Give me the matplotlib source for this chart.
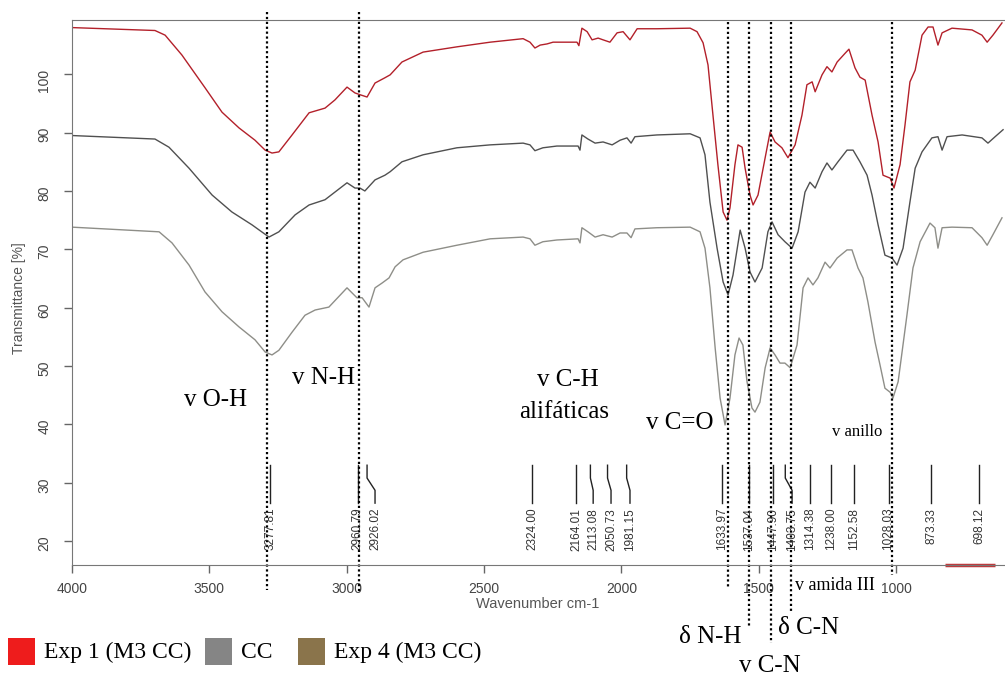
import matplotlib.pyplot as plt
import matplotlib.transforms as mtransforms
from matplotlib.patches import Rectangle

# FTIR spectra (wavenumber cm-1, transmittance %)
wn_exp1 = [4000, 3698, 3661, 3600, 3516, 3454, 3392, 3334, 3297, 3272, 3247, 3199, 3137, 3079,
           3043, 2999, 2970, 2952, 2926, 2897, 2861, 2842, 2799, 2722, 2599, 2478, 2358, 2333,
           2315, 2296, 2271, 2249, 2162, 2155, 2144, 2125, 2107, 2085, 2067, 2042, 2016, 1994,
           1969, 1943, 1871, 1750, 1725, 1703, 1685, 1667, 1649, 1630, 1616, 1605, 1587, 1576,
           1561, 1550, 1532, 1521, 1503, 1477, 1459, 1441, 1416, 1394, 1368, 1343, 1325, 1306,
           1295, 1270, 1252, 1234, 1215, 1186, 1172, 1150, 1132, 1113, 1088, 1066, 1048, 1022,
           1008, 986, 968, 950, 931, 906, 884, 866, 848, 833, 797, 724, 688, 669, 648, 615]
t_exp1 = [108.0, 107.5, 106.7, 103.3, 97.7, 93.5, 90.8, 88.7, 87.0, 86.5, 86.7, 89.6, 93.4, 94.2,
          95.6, 97.8, 96.8, 96.5, 96.1, 98.5, 99.4, 99.9, 102.1, 103.8, 104.7, 105.5, 106.1, 105.5,
          104.5, 105.0, 105.2, 105.5, 105.5, 104.9, 107.9, 107.3, 105.9, 106.2, 105.9, 105.5, 107.1, 107.3,
          105.9, 107.8, 107.8, 107.9, 107.3, 105.4, 101.6, 93.0, 84.5, 76.4, 75.0, 77.1, 84.5, 87.9,
          87.5, 83.9, 79.3, 77.6, 79.3, 85.7, 90.1, 88.4, 87.4, 85.7, 87.9, 93.0, 98.2, 98.7,
          97.0, 99.9, 101.3, 100.4, 102.1, 103.6, 104.3, 101.1, 99.5, 99.0, 93.0, 88.4, 82.7, 82.2,
          80.5, 84.5, 91.3, 98.7, 100.7, 106.7, 108.1, 108.1, 105.0, 107.1, 107.9, 107.6, 106.7, 105.5, 106.7, 108.8]

wn_cc = [4000, 3698, 3647, 3574, 3490, 3418, 3345, 3283, 3247, 3188, 3137, 3079, 2999, 2970,
         2952, 2934, 2897, 2861, 2842, 2799, 2722, 2599, 2478, 2358, 2333, 2315, 2286, 2235,
         2158, 2151, 2144, 2122, 2096, 2067, 2034, 2005, 1980, 1965, 1951, 1871, 1750, 1714,
         1696, 1678, 1652, 1630, 1612, 1594, 1568, 1550, 1532, 1514, 1488, 1467, 1452, 1430,
         1405, 1379, 1357, 1332, 1314, 1295, 1270, 1252, 1234, 1212, 1179, 1157, 1132, 1106,
         1088, 1066, 1041, 1015, 997, 975, 950, 931, 906, 870, 848, 833, 815, 760, 688, 666, 640, 611]
t_cc = [89.5, 88.9, 87.5, 83.9, 79.3, 76.4, 74.2, 72.1, 73.0, 75.9, 77.6, 78.5, 81.4, 80.5,
        80.5, 80.0, 81.9, 82.7, 83.3, 85.0, 86.2, 87.4, 87.9, 88.2, 87.9, 86.9, 87.4, 87.7,
        87.7, 87.0, 89.6, 88.9, 88.2, 88.4, 87.9, 88.7, 89.1, 88.2, 89.3, 89.6, 89.8, 89.1,
        86.2, 78.1, 70.2, 64.4, 62.2, 65.6, 73.3, 70.2, 66.1, 64.4, 66.8, 73.0, 74.7, 72.5,
        71.3, 70.2, 73.0, 79.8, 81.5, 80.5, 83.3, 84.8, 83.6, 85.0, 87.0, 87.0, 85.0, 82.7,
        79.3, 74.2, 69.0, 68.5, 67.3, 70.2, 78.1, 83.9, 86.7, 89.1, 89.3, 87.0, 89.3, 89.6, 89.1, 88.2, 89.3, 90.5]

wn_exp4 = [4000, 3683, 3636, 3574, 3516, 3454, 3392, 3334, 3297, 3272, 3247, 3199, 3152, 3115,
           3065, 2999, 2963, 2944, 2919, 2897, 2872, 2846, 2824, 2795, 2722, 2599, 2478, 2358,
           2333, 2315, 2286, 2235, 2158, 2151, 2144, 2122, 2096, 2067, 2034, 2005, 1980, 1965,
           1951, 1871, 1750, 1714, 1696, 1678, 1659, 1641, 1623, 1605, 1587, 1572, 1558, 1543,
           1525, 1514, 1496, 1477, 1459, 1441, 1423, 1405, 1386, 1361, 1339, 1321, 1303, 1285,
           1259, 1241, 1215, 1179, 1161, 1139, 1121, 1103, 1077, 1059, 1041, 1022, 1012, 993,
           961, 939, 913, 877, 859, 848, 833, 797, 724, 688, 669, 648, 615]
t_exp4 = [73.8, 73.0, 71.1, 67.3, 62.7, 59.3, 56.7, 54.5, 52.4, 51.9, 52.7, 55.8, 58.7, 59.6,
          60.1, 63.4, 61.7, 61.7, 60.1, 63.4, 64.2, 65.1, 67.0, 68.2, 69.5, 70.7, 71.8, 72.1,
          71.8, 70.7, 71.3, 71.6, 71.8, 71.1, 73.7, 73.0, 72.1, 72.5, 72.1, 72.8, 72.8, 72.0,
          73.5, 73.7, 73.8, 73.0, 70.2, 63.4, 53.1, 44.5, 39.9, 44.5, 51.9, 54.8, 53.6, 47.3,
          42.8, 42.1, 43.8, 49.7, 53.1, 51.9, 50.5, 50.5, 49.7, 53.6, 63.4, 65.1, 63.9, 65.1,
          67.8, 66.8, 68.5, 69.9, 69.9, 66.8, 65.1, 61.0, 54.1, 50.2, 46.2, 45.5, 44.5, 47.3,
          58.7, 66.8, 71.3, 74.5, 73.7, 70.2, 73.7, 73.8, 73.7, 72.0, 70.7, 72.5, 75.4]

# peak picks: value printed, position of the peak, position of the printed label
peak_text = ['3277.81', '2960.79', '2926.02', '2324.00', '2164.01', '2113.08', '2050.73', '1981.15',
             '1633.97', '1537.04', '1447.90', '1403.75', '1314.38', '1238.00', '1152.58', '1028.03',
             '873.33', '698.12']
peak_wn = [3277.81, 2960.79, 2926.02, 2324.00, 2164.01, 2113.08, 2050.73, 1981.15,
           1633.97, 1537.04, 1447.90, 1403.75, 1314.38, 1238.00, 1152.58, 1028.03, 873.33, 698.12]
peak_label_wn = [3277.81, 2960.79, 2897, 2324.00, 2164.01, 2103, 2038, 1969,
                 1633.97, 1537.04, 1447.90, 1379, 1314.38, 1238.00, 1152.58, 1028.03, 873.33, 698.12]

# dotted guide lines (wavenumber, top / bottom in axes fraction)
guide_wn = [3290, 2957, 1612, 1535, 1455, 1383, 1015]
guide_top = [1.015, 1.015, 0.996, 0.996, 0.996, 0.996, 0.996]
guide_bot = [-0.046, -0.051, -0.042, -0.114, -0.143, -0.088, -0.018]

series_names = ['Exp 1 (M3 CC)', 'CC', 'Exp 4 (M3 CC)']
line_colors = ['#b3202a', '#505050', '#8e8e88']
legend_colors = ['#ee1c1c', '#858585', '#8a744b']

fig = plt.figure(figsize=(10.05, 6.75), dpi=100)
ax = fig.add_axes([72 / 1005, 1 - 565 / 675, 1 - 72 / 1005, (565 - 20) / 675])

for wn, t, c in zip([wn_exp1, wn_cc, wn_exp4], [t_exp1, t_cc, t_exp4], line_colors):
    ax.plot(wn, t, color=c, lw=1.0)

ax.set_xlim(4000, 604)
ax.set_ylim(15.9, 109.3)
ax.set_xticks([4000, 3500, 3000, 2500, 2000, 1500, 1000])
ax.set_yticks([20, 30, 40, 50, 60, 70, 80, 90, 100])
ax.tick_params(axis='both', direction='out', length=6, width=1, color='#666666',
               labelcolor='#444444', labelsize=10)
ax.tick_params(axis='y', labelrotation=90, pad=9)
ax.tick_params(axis='x', pad=6)
for lab in ax.get_xticklabels() + ax.get_yticklabels():
    lab.set_fontfamily('Liberation Sans')
ax.spines['right'].set_visible(False)
for s in ['left', 'bottom', 'top']:
    ax.spines[s].set_color('#777777')

# peak pick markers and values
for txt, p, q in zip(peak_text, peak_wn, peak_label_wn):
    ax.plot([p, p, q, q], [33.0, 30.8, 28.7, 26.5], color='#222222', lw=1.0)
    ax.text(q, 25.7, txt, rotation=90, ha='center', va='top', fontsize=8.5,
            family='Liberation Sans', color='#333333')

# dotted guides
blend = mtransforms.blended_transform_factory(ax.transData, ax.transAxes)
for g, a, b in zip(guide_wn, guide_top, guide_bot):
    ax.plot([g, g], [a, b], transform=blend, clip_on=False, color='black',
            lw=1.6, linestyle=(0, (1, 1.2)))

# red mark at bottom right of axis
ax.plot([822, 640], [15.9, 15.9], color='#c0393b', lw=2.5, clip_on=False, solid_capstyle='butt')

serif = 'Liberation Serif'
ax.text(3479, 44.2, 'v O-H', fontsize=18, family=serif, ha='center', va='center')
ax.text(3086, 47.9, 'v N-H', fontsize=18, family=serif, ha='center', va='center')
ax.text(2195, 47.6, 'v C-H', fontsize=18, family=serif, ha='center', va='center')
ax.text(2210, 42.1, 'alifáticas', fontsize=18, family=serif, ha='center', va='center')
ax.text(1787, 40.2, 'v C=O', fontsize=18, family=serif, ha='center', va='center')
ax.text(1143, 38.7, 'v anillo', fontsize=12, family=serif, ha='center', va='center')
ax.text(1223, 12.45, 'v amida III', fontsize=13, family=serif, ha='center', va='center')
ax.text(1678, 3.6, 'δ N-H', fontsize=18, family=serif, ha='center', va='center')
ax.text(1321, 5.1, 'δ C-N', fontsize=18, family=serif, ha='center', va='center')
ax.text(1459, -1.4, 'v C-N', fontsize=18, family=serif, ha='center', va='center')

fig.text(538 / 1005, 1 - 604 / 675, 'Wavenumber cm-1', ha='center', va='center',
         fontsize=10.5, family='Liberation Sans', color='#555555')
fig.text(19 / 1005, 1 - 298 / 675, 'Transmittance [%]', rotation=90, ha='center', va='center',
         fontsize=10, family='Liberation Sans', color='#555555')

# legend
legend_x = [8, 205, 298]
for name, c, x0 in zip(series_names, legend_colors, legend_x):
    fig.add_artist(Rectangle((x0 / 1005, 1 - 665 / 675), 27 / 1005, 27 / 675,
                             transform=fig.transFigure, facecolor=c, edgecolor='none'))
    fig.text((x0 + 36) / 1005, 1 - 652 / 675, name, ha='left', va='center',
             fontsize=17, family=serif)

fig.savefig('out.png', dpi=100)
